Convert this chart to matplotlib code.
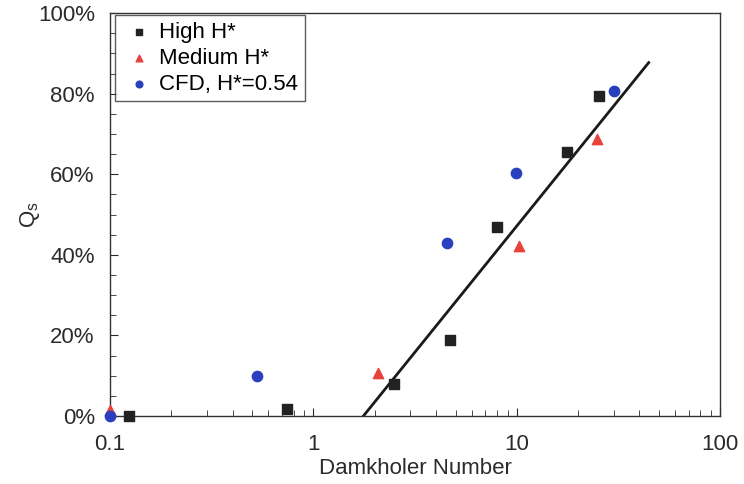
import matplotlib
matplotlib.use("Agg")
import matplotlib.pyplot as plt
import numpy as np
from matplotlib.ticker import FixedLocator, FuncFormatter, NullFormatter

plt.rcParams['font.family'] = ['Liberation Sans', 'DejaVu Sans']
plt.rcParams['mathtext.default'] = 'regular'

high_x = [0.124, 0.745, 2.49, 4.69, 7.97, 17.6, 25.4]
high_y = [0.0, 0.017, 0.079, 0.189, 0.470, 0.655, 0.794]
med_x = [0.1, 2.07, 10.2, 24.7]
med_y = [0.015, 0.106, 0.423, 0.687]
cfd_x = [0.1, 0.53, 4.56, 9.93, 30.1]
cfd_y = [0.0, 0.099, 0.429, 0.604, 0.806]
fit_x = [1.76, 44.5]
fit_y = [0.0, 0.877]

fig = plt.figure(figsize=(7.44, 4.84), dpi=100)
ax = fig.add_axes([0.148, 0.1405, 0.82, 0.8325])

ax.plot(fit_x, fit_y, color='#1a1a1a', lw=2, zorder=2)
ax.scatter(high_x, high_y, marker='s', s=60, color='#222222', label='High H*', zorder=3, clip_on=False)
ax.scatter(med_x, med_y, marker='^', s=55, color='#e8423c', label='Medium H*', zorder=3, clip_on=False)
ax.scatter(cfd_x, cfd_y, marker='o', s=55, color='#2a3fbd', label='CFD, H*=0.54', zorder=3, clip_on=False)

ax.set_xscale('log')
ax.set_xlim(0.1, 100)
ax.set_ylim(0, 1.0)
ax.set_xticks([0.1, 1, 10, 100])
ax.xaxis.set_major_formatter(FuncFormatter(lambda v, p: f'{v:g}'))
ax.xaxis.set_minor_formatter(NullFormatter())
ax.set_yticks(np.arange(0, 1.01, 0.2))
ax.yaxis.set_major_formatter(FuncFormatter(lambda v, p: f'{v*100:.0f}%'))
ax.yaxis.set_minor_locator(FixedLocator(np.arange(0, 1.001, 0.05)))

ax.tick_params(axis='both', which='both', direction='in', labelsize=16, colors='#2b2b2b', labelcolor='#2b2b2b')
ax.tick_params(axis='x', which='major', length=6, pad=13)
ax.tick_params(axis='x', which='minor', length=4)
ax.tick_params(axis='y', which='major', length=6, pad=11)
ax.tick_params(axis='y', which='minor', length=4)

for s in ax.spines.values():
    s.set_color('#333333')
    s.set_linewidth(1.0)

ax.set_xlabel('Damkholer Number', fontsize=16, color='#2b2b2b', labelpad=2)
ax.set_ylabel('Q$_s$', fontsize=16, color='#2b2b2b', labelpad=-3)

leg = ax.legend(loc='upper left', fontsize=16, frameon=True, fancybox=False,
                edgecolor='#333333', handletextpad=0.1, borderpad=0.3,
                labelspacing=0.22, handlelength=1.6, markerscale=0.65,
                borderaxespad=0.0, bbox_to_anchor=(0.008, 0.995))
leg.get_frame().set_linewidth(1.0)

fig.savefig('out.png', dpi=100)
